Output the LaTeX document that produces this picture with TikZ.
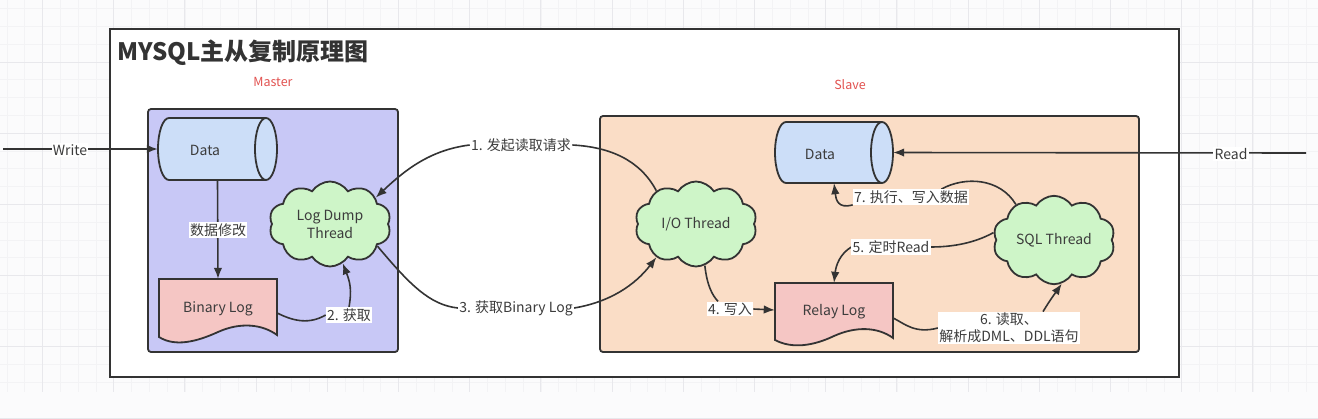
\documentclass[tikz,border=0pt]{standalone}
\usepackage{fontspec}
\setmainfont{Noto Sans CJK SC}
\usetikzlibrary{shapes.symbols,arrows.meta,calc}
\pgfdeclarelayer{bgL}
\pgfdeclarelayer{edgeL}
\pgfsetlayers{bgL,edgeL,main}
\definecolor{strk}{RGB}{51,51,51}
\definecolor{txt}{RGB}{60,60,60}
\definecolor{masterc}{RGB}{200,200,246}
\definecolor{slavec}{RGB}{250,221,198}
\definecolor{datac}{RGB}{204,222,248}
\definecolor{docc}{RGB}{245,198,196}
\definecolor{cloudc}{RGB}{206,245,200}
\definecolor{redt}{RGB}{226,82,80}
\definecolor{gridmin}{RGB}{243,243,245}
\definecolor{gridmaj}{RGB}{232,232,236}
\definecolor{pagebg}{RGB}{251,251,252}
\newcommand\mycyl[4]{%
  \pgfmathsetmacro\cyry{(#4-#3)/2}
  \filldraw[fill=datac,draw=strk,line width=1.8pt]
    (#1+11,#3) arc[start angle=270,end angle=90,x radius=11,y radius=\cyry]
    -- (#2-11,#4) arc[start angle=90,end angle=-90,x radius=11,y radius=\cyry] -- cycle;
  \draw[strk,line width=1.8pt] (#2-11,#3) arc[start angle=270,end angle=90,x radius=11,y radius=\cyry];
}
\begin{document}
\begin{tikzpicture}[x=1pt,y=-1pt,
  lbl/.style={fill=white,inner sep=1.2pt,text=txt,font=\fontsize{14}{17}\selectfont},
  conn/.style={draw=strk,line width=1.6pt},
  arr/.style={conn,-{Latex[length=11pt,width=8.5pt]}},
  thread/.style={cloud,cloud puffs=10,cloud puff arc=115,aspect=1.45,draw=strk,line width=1.8pt,
    fill=cloudc,minimum width=122pt,minimum height=85pt,inner sep=0pt,align=center,text=txt,
    font=\fontsize{14}{18}\selectfont},
  plain/.style={inner sep=0pt,text=txt,font=\fontsize{14}{17}\selectfont},
  boxst/.style={draw=strk,line width=1.8pt,rounded corners=3pt}]
\useasboundingbox (0,0) rectangle (1318,418);
\begin{pgfonlayer}{bgL}
  \fill[pagebg] (0,0) rectangle (1318,418);
  \foreach \i in {0,...,74} {\draw[gridmin,line width=0.8pt] (6.9+17.8*\i,0) -- (6.9+17.8*\i,392);}
  \foreach \i in {0,...,21} {\draw[gridmin,line width=0.8pt] (0,8.6+17.8*\i) -- (1318,8.6+17.8*\i);}
  \foreach \i in {0,...,18} {\draw[gridmaj,line width=0.9pt] (42.5+71.2*\i,0) -- (42.5+71.2*\i,392);}
  \foreach \i in {0,...,5} {\draw[gridmaj,line width=0.9pt] (0,62+71.2*\i) -- (1318,62+71.2*\i);}
  \filldraw[fill=white,draw=strk,line width=1.8pt] (110,29) rectangle (1179,377);
  \filldraw[boxst,fill=masterc] (148,109) rectangle (398,352);
  \filldraw[boxst,fill=slavec] (600,116) rectangle (1139,352);
\end{pgfonlayer}

\node[inner sep=0pt,text=strk,font=\fontsize{24}{28}\selectfont\bfseries] (title) at (243,53) {MYSQL主从复制原理图};
\node[inner sep=0pt,text=redt,font=\fontsize{12.5}{15}\selectfont] (mlab) at (273,82) {Master};
\node[inner sep=0pt,text=redt,font=\fontsize{12.5}{15}\selectfont] (slab) at (850,85) {Slave};

% shapes
\mycyl{158}{277}{118}{180}
\node[plain,minimum width=119pt,minimum height=62pt] (mdata) at (217.5,149) {};
\node[plain] at (205,150) {Data};
\mycyl{775}{893}{122}{183}
\node[plain,minimum width=118pt,minimum height=61pt] (sdata) at (834,152.5) {};
\node[plain] at (820,154) {Data};

\filldraw[fill=docc,draw=strk,line width=1.8pt] (159,279) -- (277,279) -- (277,335)
  .. controls (262,324) and (240,322) .. (218,332) .. controls (196,342) and (175,347) .. (159,337) -- cycle;
\node[plain,minimum width=118pt,minimum height=54pt] (binlog) at (218,306) {};
\node[plain] at (218,309) {Binary Log};
\filldraw[fill=docc,draw=strk,line width=1.8pt] (775,283) -- (893,283) -- (893,338)
  .. controls (878,327) and (856,326) .. (834,336) .. controls (813,346) and (792,349) .. (775,340) -- cycle;
\node[plain,minimum width=118pt,minimum height=54pt] (relay) at (834,310) {};
\node[plain] at (834,312) {Relay Log};

\node[thread] (ld) at (330,224) {Log Dump\\Thread};
\node[thread] (io) at (696,224) {I/O Thread};
\node[thread,minimum height=86pt] (sql) at (1054,240) {SQL Thread};

% labels
\node[lbl] (lblw) at (70,150) {Write};
\node[lbl] (lblr) at (1231,154) {Read};
\node[lbl] (lblm) at (218,230) {数据修改};
\node[lbl] (lbl2) at (349,315) {2. 获取};
\node[lbl] (lbl1) at (521,145) {1. 发起读取请求};
\node[lbl] (lbl3) at (516,308) {3. 获取Binary Log};
\node[lbl] (lbl4) at (730,309) {4. 写入};
\node[lbl] (lbl5) at (891,247) {5. 定时Read};
\node[lbl,align=center] (lbl6) at (1009,328) {6. 读取、\\解析成DML、DDL语句};
\node[lbl] (lbl7) at (911,197) {7. 执行、写入数据};

\coordinate (wstart) at (3,149);
\coordinate (rstart) at (1306,153);

\begin{pgfonlayer}{edgeL}
  \draw[arr] (wstart) -- (mdata.west);
  \draw[arr] (rstart) -- (sdata.east);
  \draw[arr] (mdata.south) -- (binlog.north);
  \draw[conn] ($(binlog.east)+(0,7)$) .. controls (295,322) and (310,324) .. (lbl2.west);
  \draw[arr] (lbl2.north) .. controls (352,290) and (350,282) .. (ld.-72);
  \draw[conn] (io.140) .. controls (640,160) and (610,147) .. (lbl1.east);
  \draw[arr] (lbl1.west) .. controls (430,150) and (405,170) .. (ld.30);
  \draw[conn] (ld.-25) .. controls (410,285) and (430,305) .. (lbl3.west);
  \draw[arr] (lbl3.east) .. controls (610,302) and (635,285) .. (io.-140);
  \draw[conn] (io.-78) .. controls (707,285) and (712,295) .. ($(lbl4.north)+(-12,0)$);
  \draw[arr] (lbl4.east) -- (relay.west);
  \draw[conn] (lbl5.east) .. controls (960,247) and (980,240) .. (sql.173);
  \draw[arr] (lbl5.west) .. controls (840,254) and (836,265) .. (relay.north);
  \draw[conn] ($(relay.east)+(0,8)$) .. controls (905,324) and (915,334) .. (lbl6.west);
  \draw[arr] ($(lbl6.north)+(34,0)$) .. controls (1050,300) and (1056,292) .. (sql.-80);
  \draw[conn] (sql.137) .. controls (1000,178) and (965,176) .. ($(lbl7.north east)+(-28,0)$);
  \draw[arr] (lbl7.south west) .. controls (838,209) and (836,200) .. (sdata.south);
\end{pgfonlayer}
\end{tikzpicture}
\end{document}
